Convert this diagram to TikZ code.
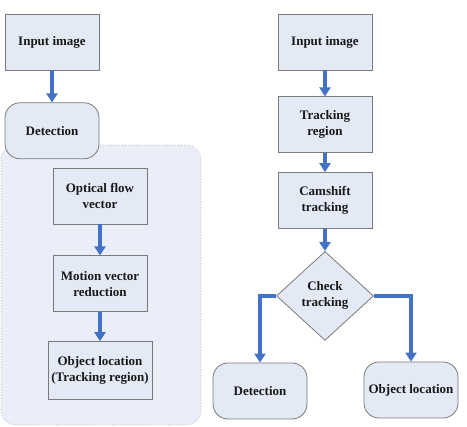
\documentclass[tikz,border=0pt]{standalone}
\usepackage{fontspec}
\setmainfont{Liberation Serif}
\usetikzlibrary{positioning,shapes.geometric,arrows.meta}
\definecolor{boxfill}{HTML}{E4E9F6}
\definecolor{boxline}{HTML}{7A7A7A}
\definecolor{arrowblue}{HTML}{4472C4}
\definecolor{panelfill}{HTML}{E9EEF8}

\begin{document}
\begin{tikzpicture}[x=1pt, y=1pt, thick,
  main/.style = {draw=boxline, fill=boxfill, line width=0.8pt, minimum width=94pt, minimum height=56pt, inner sep=2pt, align=center, font=\fontsize{13}{16}\selectfont\bfseries, text=black!90},
  term/.style = {main, rounded corners=15pt},
  check/.style = {main, diamond, aspect=1.1, minimum width=97pt, minimum height=89pt, inner sep=0pt},
  flow/.style = {draw=arrowblue, line width=3.4pt, -{Triangle[length=9pt,width=11pt]}}]
		\useasboundingbox (0,0) rectangle (467,-427);
		% panel behind the detection steps
		\draw[dotted, draw=gray!60, fill=panelfill, rounded corners=15pt] (1,-145) rectangle (201,-425);

		\node[main] (1) at (52,-42) {Input image};
		\node[term] (2)[below=32pt of 1] {Detection};
		\node[main] (3) at (100,-196) {Optical flow\\vector};
		\node[main] (4)[below=31pt of 3] {Motion vector\\reduction};
		\node[main, minimum width=104pt, minimum height=58pt] (5)[below=29pt of 4] {Object location\\(Tracking region)};

		\node[main] (6) at (325,-42) {Input image};
		\node[main] (7)[below=26pt of 6] {Tracking\\region};
		\node[main] (8)[below=19pt of 7] {Camshift\\tracking};
		\node[check] (9)[below=22pt of 8] {Check\\tracking};
		\node[term] (10) at (260,-391) {Detection};
		\node[term] (11) at (411,-390) {Object location};

		\draw[flow] (1)--(2);
		\draw[flow] (3)--(4);
		\draw[flow] (4)--(5);
		\draw[flow] (6)--(7);
		\draw[flow] (7)--(8);
		\draw[flow] (8)--(9);
		\draw[flow] (9.west) -| (10);
		\draw[flow] (9.east) -| (11);

	\end{tikzpicture}
\end{document}
